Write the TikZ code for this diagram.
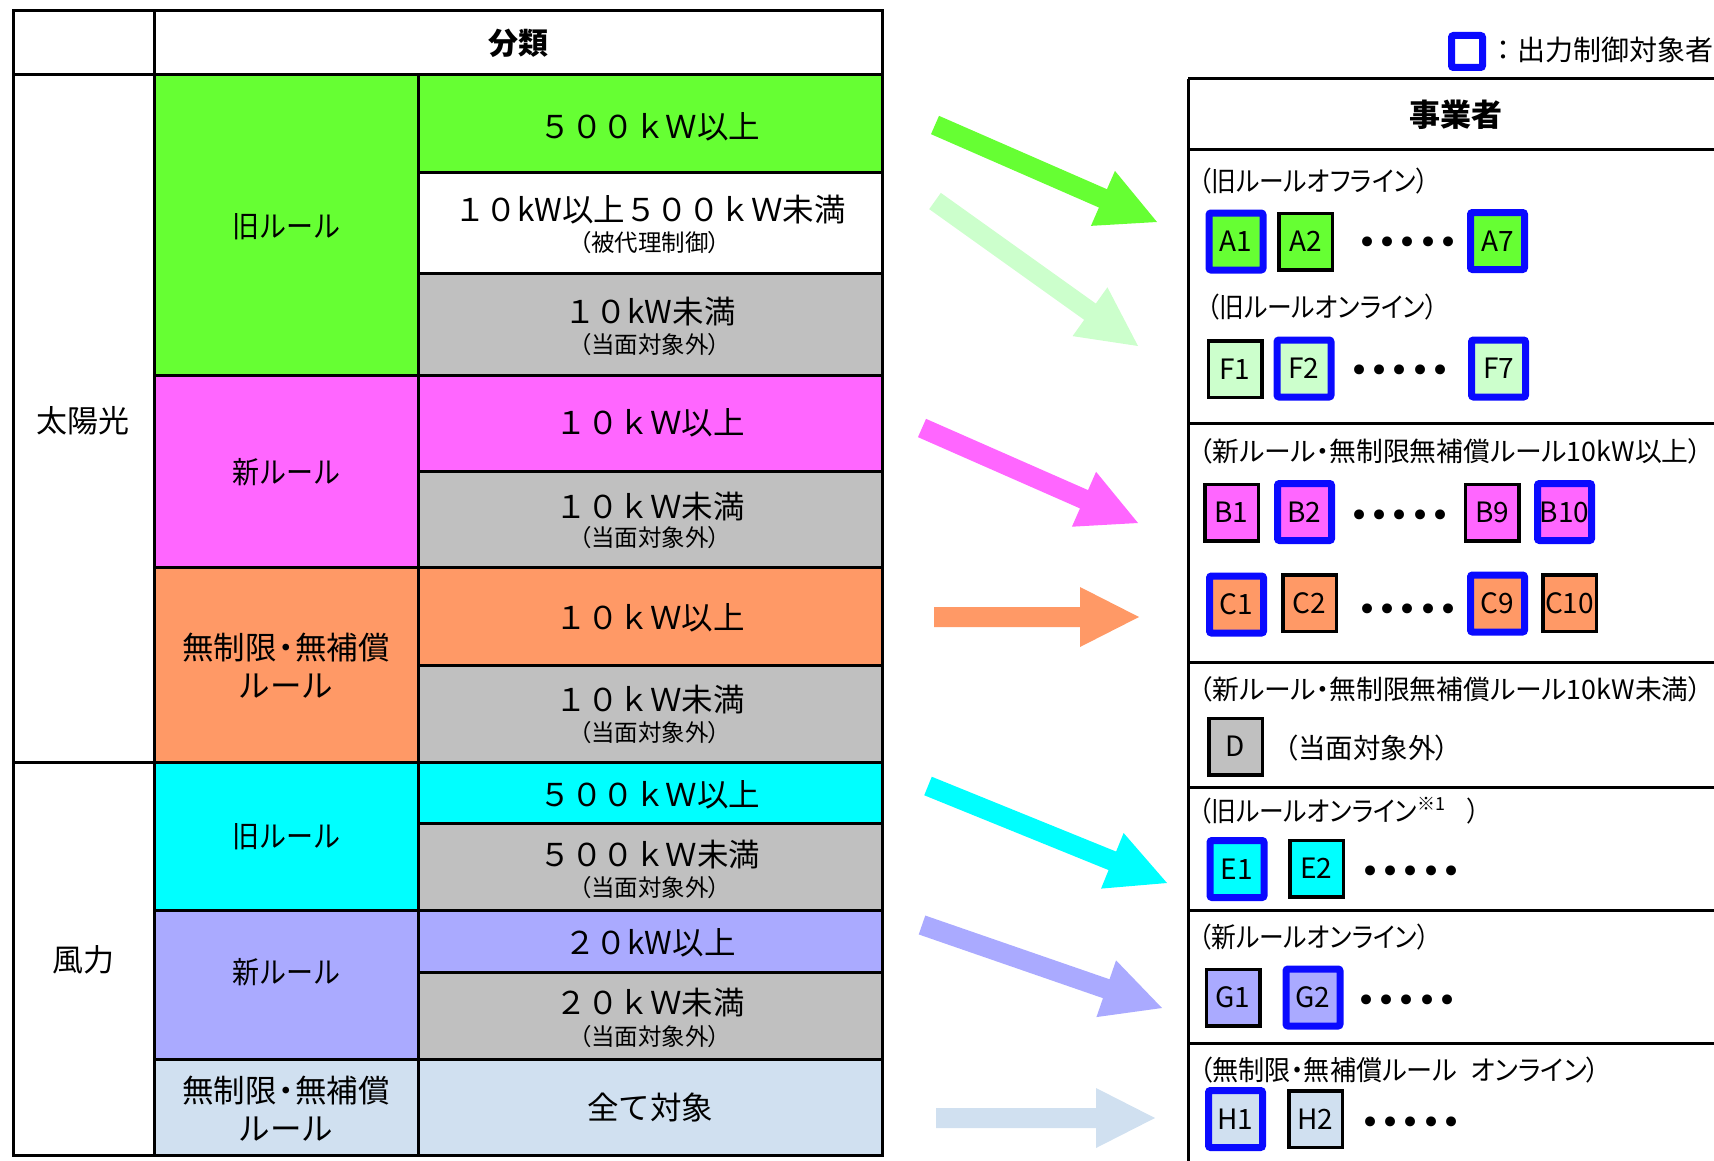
\documentclass[tikz,border=0pt]{standalone}
\usepackage{fontspec}
\setmainfont{Noto Sans CJK JP}
\newfontfamily\jpp[RawFeature=+palt]{Noto Sans CJK JP}
\newfontfamily\jpn[RawFeature=+palt, FakeStretch=0.9]{Noto Sans CJK JP}
\newfontfamily\jpm[RawFeature=+palt, FakeStretch=0.95]{Noto Sans CJK JP}
\newfontfamily\jpc[FakeStretch=0.9]{Noto Sans CJK JP}
\newfontfamily\dvs{DejaVu Sans}
\usetikzlibrary{calc}
\definecolor{cgreen}{HTML}{66FF33}
\definecolor{clgreen}{HTML}{CCFFCC}
\definecolor{cmag}{HTML}{FF66FF}
\definecolor{corange}{HTML}{FF9966}
\definecolor{cgray}{HTML}{C0C0C0}
\definecolor{ccyan}{HTML}{00FFFF}
\definecolor{clav}{HTML}{AAAAFF}
\definecolor{clblue}{HTML}{D0E0F0}
\definecolor{cblue}{HTML}{0A0AFF}
\newcommand{\myfs}[1]{\fontsize{#1}{#1}\selectfont}
\newcommand{\fatarrow}[3]{%
  \coordinate (fb) at ($(#3)!29.5pt!(#2)$);
  \fill[#1] ($(#2)!5pt!90:(#3)$) -- ($(fb)!5pt!90:(#3)$) -- ($(fb)!15pt!90:(#3)$) -- (#3)
    -- ($(fb)!15pt!-90:(#3)$) -- ($(fb)!5pt!-90:(#3)$) -- ($(#2)!5pt!-90:(#3)$) -- cycle;}
\begin{document}
\begin{tikzpicture}[x=0.5pt,y=-0.5pt,
  grid/.style={line width=1.5pt, draw=black},
  hdr/.style={inner sep=0pt, font=\bfseries\myfs{15pt}},
  big/.style={inner sep=0pt, font=\myfs{15.5pt}},
  cat/.style={inner sep=0pt, font=\myfs{15.75pt}},
  catn/.style={inner sep=0pt, font=\jpc\myfs{15pt}},
  cattwo/.style={inner sep=0pt, align=center, font=\fontsize{15.75pt}{19pt}\selectfont},
  sub/.style={inner sep=0pt, font=\jpp\myfs{11.75pt}},
  lbl/.style={anchor=west, inner sep=0pt, font=\jpp\myfs{13.75pt}},
  lbln/.style={anchor=west, inner sep=0pt, font=\jpn\myfs{13.75pt}},
  lblm/.style={anchor=west, inner sep=0pt, font=\jpm\myfs{13.75pt}},
  lblw/.style={anchor=west, inner sep=0pt, font=\myfs{14pt}},
  dots/.style={inner sep=0pt, font=\dvs\myfs{17pt}},
  bk/.style={draw=black, line width=1.75pt, minimum width=26.75pt, minimum height=28.25pt, inner sep=0pt, font=\myfs{14pt}},
  bb/.style={draw=cblue, line width=3.5pt, rounded corners=1pt, minimum width=27pt, minimum height=28.5pt, inner sep=0pt, font=\myfs{14pt}}]
\useasboundingbox (0,0) rectangle (1714,1161);
\clip (0,0) rectangle (1714,1161);
% ---------- left table fills
\fill[cgreen] (154,75) rectangle (418,375);
\fill[cgreen] (418,75) rectangle (882,173);
\fill[white] (418,173) rectangle (882,273);
\fill[cgray] (418,273) rectangle (882,375);
\fill[cmag] (154,375) rectangle (418,567);
\fill[cmag] (418,375) rectangle (882,471);
\fill[cgray] (418,471) rectangle (882,567);
\fill[corange] (154,567) rectangle (418,762);
\fill[corange] (418,567) rectangle (882,665);
\fill[cgray] (418,665) rectangle (882,762);
\fill[ccyan] (154,762) rectangle (418,910);
\fill[ccyan] (418,762) rectangle (882,823);
\fill[cgray] (418,823) rectangle (882,910);
\fill[clav] (154,910) rectangle (418,1059);
\fill[clav] (418,910) rectangle (882,972);
\fill[cgray] (418,972) rectangle (882,1059);
\fill[clblue] (154,1059) rectangle (882,1155);
% ---------- left table lines
\draw[grid] (13,11) rectangle (882,1155);
\draw[grid] (154,11) -- (154,1155);
\draw[grid] (418,75) -- (418,1155);
\draw[grid] (13,75) -- (882,75);
\draw[grid] (13,762) -- (882,762);
\foreach \yy in {375,567,910,1059} \draw[grid] (154,\yy) -- (882,\yy);
\foreach \yy in {173,273,471,665,823,972} \draw[grid] (418,\yy) -- (882,\yy);
% ---------- left table texts
\node[hdr] (bunrui) at (518,43) {分類};
\node[big] (taiyo) at (83,421) {太陽光};
\node[big] (furyoku) at (83,960) {風力};
\node[catn] (sold) at (286,227) {旧ルール};
\node[catn] (snew) at (286,472) {新ルール};
\node[cattwo] (sunl) at (286,666) {無制限\hspace{-0.2em}・\hspace{-0.2em}無補償\\ルール};
\node[catn] (wold) at (286,837) {旧ルール};
\node[catn] (wnew) at (286,972) {新ルール};
\node[cattwo] (wunl) at (286,1109) {無制限\hspace{-0.2em}・\hspace{-0.2em}無補償\\ルール};
\node[cat] (s1) at (650,127) {５００ｋＷ以上};
\node[cat] (s2) at (650,210) {１０kW以上５００ｋＷ未満};
\node[sub] (s2s) at (650,243) {（被代理制御）};
\node[cat] (s3) at (650,312) {１０kW未満};
\node[sub] (s3s) at (650,345) {（当面対象外）};
\node[cat] (s4) at (650,423) {１０ｋＷ以上};
\node[cat] (s5) at (650,507) {１０ｋＷ未満};
\node[sub] (s5s) at (650,538) {（当面対象外）};
\node[cat] (s6) at (650,618) {１０ｋＷ以上};
\node[cat] (s7) at (650,700) {１０ｋＷ未満};
\node[sub] (s7s) at (650,733) {（当面対象外）};
\node[cat] (w1) at (650,795) {５００ｋＷ以上};
\node[cat] (w2) at (650,855) {５００ｋＷ未満};
\node[sub] (w2s) at (650,888) {（当面対象外）};
\node[cat] (w3) at (650,943) {２０kW以上};
\node[cat] (w4) at (650,1003) {２０ｋＷ未満};
\node[sub] (w4s) at (650,1037) {（当面対象外）};
\node[cat] (w5) at (650,1108) {全て対象};
% ---------- arrows
\coordinate (ta) at (935,125);  \coordinate (pa) at (1157,222);
\coordinate (tf) at (935,201);  \coordinate (pf) at (1138,346);
\coordinate (tb) at (922,428);  \coordinate (pb) at (1138,523);
\coordinate (tc) at (934,617);  \coordinate (pc) at (1139,617);
\coordinate (te) at (928,786);  \coordinate (pe) at (1167,883);
\coordinate (tg) at (922,925);  \coordinate (pg) at (1162,1008);
\coordinate (th) at (936,1118); \coordinate (ph) at (1155,1118);
\fatarrow{cgreen}{ta}{pa}
\fatarrow{clgreen}{tf}{pf}
\fatarrow{cmag}{tb}{pb}
\fatarrow{corange}{tc}{pc}
\fatarrow{ccyan}{te}{pe}
\fatarrow{clav}{tg}{pg}
\fatarrow{clblue}{th}{ph}
% ---------- right table
\draw[grid] (1188,79) -- (1188,1170);
\foreach \yy in {79,150,423,662,787,910,1043} \draw[grid] (1188,\yy) -- (1730,\yy);
\node[draw=cblue, fill=white, line width=3.5pt, rounded corners=1pt, minimum width=15.5pt, minimum height=16pt, inner sep=0pt] (legend) at (1467,51.5) {};
\node[lblw] (legtxt) at (1489,50) {：出力制御対象者};
\node[hdr, font=\bfseries\myfs{15.5pt}] (jigyo) at (1456,115) {事業者};
\node[lbln] (la) at (1199,181) {（旧ルールオフライン）};
\node[bb, fill=cgreen] (A1) at (1236,241.5) {A1};
\node[bk, fill=cgreen] (A2) at (1305.5,241.5) {A2};
\node[dots] (da) at (1408,246) {•••••};
\node[bb, fill=cgreen] (A7) at (1497.5,241) {A7};
\node[lbln] (lf) at (1207,307) {（旧ルールオンライン）};
\node[bk, fill=clgreen] (F1) at (1235,369) {F1};
\node[bb, fill=clgreen] (F2) at (1304,368.5) {F2};
\node[dots] (df) at (1400,374) {•••••};
\node[bb, fill=clgreen] (F7) at (1498.5,368.5) {F7};
\node[lbl, font=\jpp\myfs{13.4pt}] (lb) at (1199,451) {（新ルール・無制限無補償ルール10kW以上）};
\node[bk, fill=cmag] (B1) at (1231.5,512.5) {B1};
\node[bb, fill=cmag] (B2) at (1304.5,512) {B2};
\node[dots] (db) at (1400,519) {•••••};
\node[bk, fill=cmag] (B9) at (1492,512.5) {B9};
\node[bb, fill=cmag] (B10) at (1564.5,512) {B10};
\node[bb, fill=corange] (C1) at (1236.5,604.5) {C1};
\node[bk, fill=corange] (C2) at (1309.5,603) {C2};
\node[dots] (dc) at (1408,613) {•••••};
\node[bb, fill=corange] (C9) at (1497.5,603.5) {C9};
\node[bk, fill=corange] (C10) at (1569.5,603) {C10};
\node[lbl, font=\jpp\myfs{13.4pt}] (ld) at (1199,689) {（新ルール・無制限無補償ルール10kW未満）};
\node[bk, fill=cgray] (D) at (1235.5,746.5) {D};
\node[lbl] (ldd) at (1284,748) {（当面対象外）};
\node[lbln] (le) at (1199,811) {（旧ルールオンライン\raisebox{0.4em}{\jpp\myfs{9pt}※1}\hspace{0.8em}）};
\node[bb, fill=ccyan] (E1) at (1237,869) {E1};
\node[bk, fill=ccyan] (E2) at (1316.5,868.5) {E2};
\node[dots] (de) at (1411,875) {•••••};
\node[lbln] (lg) at (1199,937) {（新ルールオンライン）};
\node[bk, fill=clav] (G1) at (1233,997.5) {G1};
\node[bb, fill=clav] (G2) at (1313,997.5) {G2};
\node[dots] (dg) at (1407,1004) {•••••};
\node[lblm] (lh) at (1199,1070) {（無制限・無補償ルール\hspace{0.5em}オンライン）};
\node[bb, fill=clblue] (H1) at (1235.5,1119) {H1};
\node[bk, fill=clblue] (H2) at (1315.5,1119) {H2};
\node[dots] (dh) at (1411,1126) {•••••};
\end{tikzpicture}
\end{document}
